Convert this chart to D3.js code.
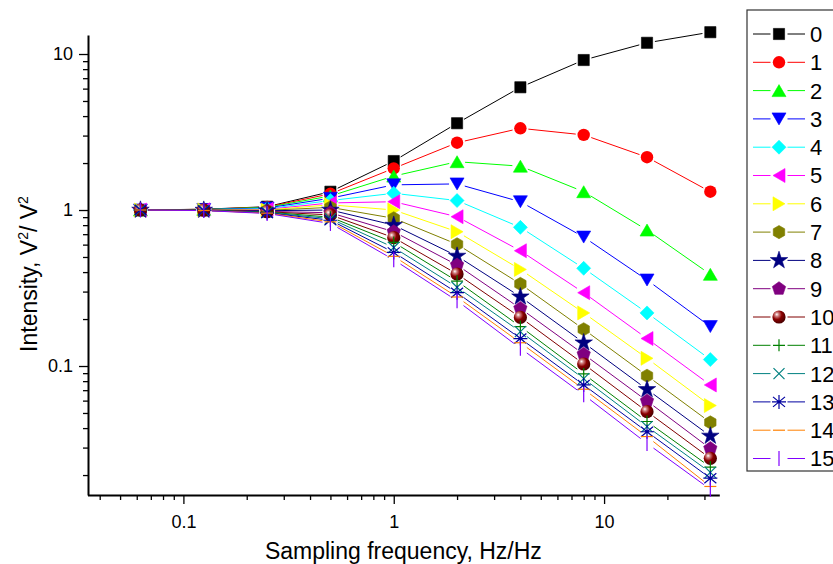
<!DOCTYPE html>
<html>
<head>
<meta charset="utf-8">
<script src="https://cdn.jsdelivr.net/npm/d3@7"></script>
<style>
  body { margin: 0; background: #fff; }
  svg { display: block; }
  text { font-family: "Liberation Sans", Arial, sans-serif; fill: #000; }
</style>
</head>
<body>
<svg id="chart" width="833" height="564"></svg>
<script>
// Sampling frequency (Hz/Hz) shared by every curve
const frequency = [0.0625, 0.125, 0.25, 0.5, 1, 2, 4, 8, 16, 32];

// Intensity (V²/V²) for each curve 0..15
const s0  = [1, 1.012, 1.05,  1.31, 2.06,  3.6,   6.12,  9.15,   11.8,   13.8];
const s1  = [1, 1.011, 1.045, 1.27, 1.85,  2.7,   3.34,  3.03,   2.18,   1.31];
const s2  = [1, 1.010, 1.04,  1.23, 1.65,  2.04,  1.91,  1.31,   0.744,  0.387];
const s3  = [1, 1.008, 1.03,  1.19, 1.45,  1.47,  1.13,  0.671,  0.356,  0.179];
const s4  = [1, 1.006, 1.02,  1.15, 1.28,  1.15,  0.774, 0.423,  0.219,  0.110];
const s5  = [1, 1.004, 1.01,  1.11, 1.13,  0.906, 0.548, 0.295,  0.150,  0.0756];
const s6  = [1, 1.002, 1.0,   1.08, 1.0,   0.726, 0.416, 0.219,  0.112,  0.0558];
const s7  = [1, 1.0,   0.995, 1.04, 0.885, 0.603, 0.336, 0.172,  0.0866, 0.0435];
const s8  = [1, 0.999, 0.99,  1.0,  0.80,  0.507, 0.278, 0.141,  0.0708, 0.0356];
const s9  = [1, 0.998, 0.98,  0.96, 0.726, 0.444, 0.234, 0.119,  0.0597, 0.0296];
const s10 = [1, 0.997, 0.975, 0.93, 0.665, 0.389, 0.205, 0.103,  0.0510, 0.0256];
const s11 = [1, 0.996, 0.97,  0.90, 0.62,  0.35,  0.179, 0.089,  0.0441, 0.0225];
const s12 = [1, 0.995, 0.965, 0.88, 0.575, 0.32,  0.166, 0.083,  0.0409, 0.0208];
const s13 = [1, 0.994, 0.96,  0.86, 0.535, 0.295, 0.150, 0.0756, 0.0379, 0.0191];
const s14 = [1, 0.993, 0.955, 0.84, 0.505, 0.277, 0.141, 0.071,  0.0353, 0.0169];
const s15 = [1, 0.992, 0.95,  0.82, 0.48,  0.262, 0.130, 0.0654, 0.0319, 0.0162];

const seriesValues = [s0, s1, s2, s3, s4, s5, s6, s7, s8, s9, s10, s11, s12, s13, s14, s15];
const seriesLabels = ["0","1","2","3","4","5","6","7","8","9","10","11","12","13","14","15"];

const seriesColors = ["#000000","#ff0000","#00ff00","#0000ff","#00ffff","#ff00ff","#ffff00","#808000",
                      "#000080","#800080","#800000","#008000","#008080","#0000a0","#ff8000","#8000ff"];
const seriesSymbols = ["square","circle","triangleUp","triangleDown","diamond","triangleLeft","triangleRight","hexagon",
                       "star","pentagon","ball","plus","cross","asterisk","dash","bar"];

const xMajorTicks = [0.1, 1, 10];
const yMajorTicks = [0.1, 1, 10];
const xTitle = "Sampling frequency, Hz/Hz";

const svg = d3.select("#chart");

const x = d3.scaleLog().domain([0.035, 35.3]).range([87.5, 719.3]);
const y = d3.scaleLog().domain([0.0149, 13.24]).range([495, 35]);

// shaded sphere used by curve 10
const defs = svg.append("defs");
const grad = defs.append("radialGradient").attr("id", "ball")
  .attr("cx", "38%").attr("cy", "35%").attr("r", "65%").attr("fx", "33%").attr("fy", "30%");
grad.append("stop").attr("offset", "0%").attr("stop-color", "#ffffff");
grad.append("stop").attr("offset", "22%").attr("stop-color", "#d08080");
grad.append("stop").attr("offset", "55%").attr("stop-color", "#8a0000");
grad.append("stop").attr("offset", "100%").attr("stop-color", "#4a0000");

// minor ticks: 2..9 within each decade
function minorTicks(domain) {
  const out = [];
  const lo = Math.floor(Math.log10(domain[0])), hi = Math.ceil(Math.log10(domain[1]));
  for (let e = lo; e <= hi; e++) {
    for (let m = 2; m <= 9; m++) {
      const v = m * Math.pow(10, e);
      if (v >= domain[0] && v <= domain[1]) out.push(v);
    }
  }
  return out;
}

const fmt = d => d3.format("~g")(d);

// axes
const gx = svg.append("g").attr("transform", "translate(0,495)");
gx.call(d3.axisBottom(x).tickValues(minorTicks(x.domain())).tickFormat("").tickSize(5).tickSizeOuter(0));
gx.call(g => g.selectAll(".domain").remove());
const gxMajor = svg.append("g").attr("transform", "translate(0,495)")
  .call(d3.axisBottom(x).tickValues(xMajorTicks).tickFormat(fmt).tickSize(9).tickPadding(11).tickSizeOuter(0));

const gy = svg.append("g").attr("transform", "translate(88,0)");
gy.call(d3.axisLeft(y).tickValues(minorTicks(y.domain())).tickFormat("").tickSize(5).tickSizeOuter(0));
gy.call(g => g.selectAll(".domain").remove());
const gyMajor = svg.append("g").attr("transform", "translate(88,0)")
  .call(d3.axisLeft(y).tickValues(yMajorTicks).tickFormat(fmt).tickSize(9).tickPadding(6).tickSizeOuter(0));

svg.selectAll(".tick line").attr("stroke", "#000").attr("stroke-width", 1.3);
svg.selectAll(".domain").attr("stroke", "#000").attr("stroke-width", 2);
svg.selectAll(".tick text")
  .attr("font-size", 18)
  .attr("font-family", "Liberation Sans, Arial, sans-serif")
  .style("font-size", "18px");

// marker drawing
function polygon(points) { return "M" + points.map(p => p.join(",")).join("L") + "Z"; }
function regular(n, r, rot) {
  const pts = [];
  for (let i = 0; i < n; i++) {
    const a = rot + i * 2 * Math.PI / n;
    pts.push([r * Math.cos(a), r * Math.sin(a)]);
  }
  return polygon(pts);
}
function drawMarker(g, kind, color, cx, cy) {
  const m = g.append("g").attr("transform", `translate(${cx},${cy})`);
  const filled = (d) => m.append("path").attr("d", d).attr("fill", color).attr("stroke", color).attr("stroke-width", 0.6);
  const stroked = (d) => m.append("path").attr("d", d).attr("fill", "none").attr("stroke", color).attr("stroke-width", 1.2);
  switch (kind) {
    case "square": filled(polygon([[-5.6,-5.6],[5.6,-5.6],[5.6,5.6],[-5.6,5.6]])); break;
    case "circle": m.append("circle").attr("r", 6.2).attr("fill", color); break;
    case "triangleUp": filled(polygon([[0,-6],[7,6],[-7,6]])); break;
    case "triangleDown": filled(polygon([[0,6],[7,-6],[-7,-6]])); break;
    case "diamond": filled(polygon([[0,-7],[7,0],[0,7],[-7,0]])); break;
    case "triangleLeft": filled(polygon([[-6,0],[6,-7],[6,7]])); break;
    case "triangleRight": filled(polygon([[6,0],[-6,-7],[-6,7]])); break;
    case "hexagon": filled(regular(6, 6.6, Math.PI / 6)); break;
    case "star": filled(d3.symbol().type(d3.symbolStar).size(95)()); break;
    case "pentagon": filled(regular(5, 7, -Math.PI / 2)); break;
    case "ball": m.append("circle").attr("r", 6.6).attr("fill", "url(#ball)"); break;
    case "plus": stroked("M-6,0H6M0,-6V6"); break;
    case "cross": stroked("M-5.5,-5.5L5.5,5.5M-5.5,5.5L5.5,-5.5"); break;
    case "asterisk":
      stroked("M0,-7V7M-6,-5L6,5M-6,5L6,-5M-7,0H7");
      m.append("circle").attr("r", 1.3).attr("fill", color);
      break;
    case "dash": stroked("M-6,0H6"); break;
    case "bar": stroked("M0,-7.5V7.5"); break;
  }
}

// curves: line segments with a small gap around each symbol, then the symbols
const gap = 8;
const plot = svg.append("g");
seriesValues.forEach((vals, si) => {
  const color = seriesColors[si];
  const g = plot.append("g");
  const pts = frequency.map((f, i) => [x(f), y(vals[i])]);
  for (let i = 0; i < pts.length - 1; i++) {
    const [x0, y0] = pts[i], [x1, y1] = pts[i + 1];
    const len = Math.hypot(x1 - x0, y1 - y0);
    if (len <= 2 * gap) continue;
    const ux = (x1 - x0) / len, uy = (y1 - y0) / len;
    g.append("line")
      .attr("x1", x0 + ux * gap).attr("y1", y0 + uy * gap)
      .attr("x2", x1 - ux * gap).attr("y2", y1 - uy * gap)
      .attr("stroke", color).attr("stroke-width", 1);
  }
  pts.forEach(p => drawMarker(g, seriesSymbols[si], color, p[0], p[1]));
});

// axis titles
svg.append("text")
  .attr("x", (87.5 + 719.3) / 2).attr("y", 559)
  .attr("text-anchor", "middle").attr("font-size", 23)
  .text(xTitle);

const yt = svg.append("text")
  .attr("transform", "translate(37,274) rotate(-90)")
  .attr("text-anchor", "middle").attr("font-size", 23);
yt.append("tspan").text("Intensity, V");
yt.append("tspan").attr("font-size", 14).attr("dy", -9).text("2");
yt.append("tspan").attr("dy", 9).text("/ V");
yt.append("tspan").attr("font-size", 14).attr("dy", -9).text("2");

// legend
const legend = svg.append("g");
legend.append("rect")
  .attr("x", 747).attr("y", 10).attr("width", 110).attr("height", 461)
  .attr("fill", "#fff").attr("stroke", "#333").attr("stroke-width", 1.2);
seriesLabels.forEach((lab, i) => {
  const ly = 34 + i * 28.3;
  const color = seriesColors[i];
  legend.append("line").attr("x1", 753).attr("x2", 770.5).attr("y1", ly).attr("y2", ly)
    .attr("stroke", color).attr("stroke-width", 1);
  legend.append("line").attr("x1", 787.5).attr("x2", 805).attr("y1", ly).attr("y2", ly)
    .attr("stroke", color).attr("stroke-width", 1);
  drawMarker(legend, seriesSymbols[i], color, 779, ly);
  legend.append("text").attr("x", 810).attr("y", ly).attr("dy", "0.36em")
    .attr("font-size", 22).text(lab);
});
</script>
</body>
</html>
